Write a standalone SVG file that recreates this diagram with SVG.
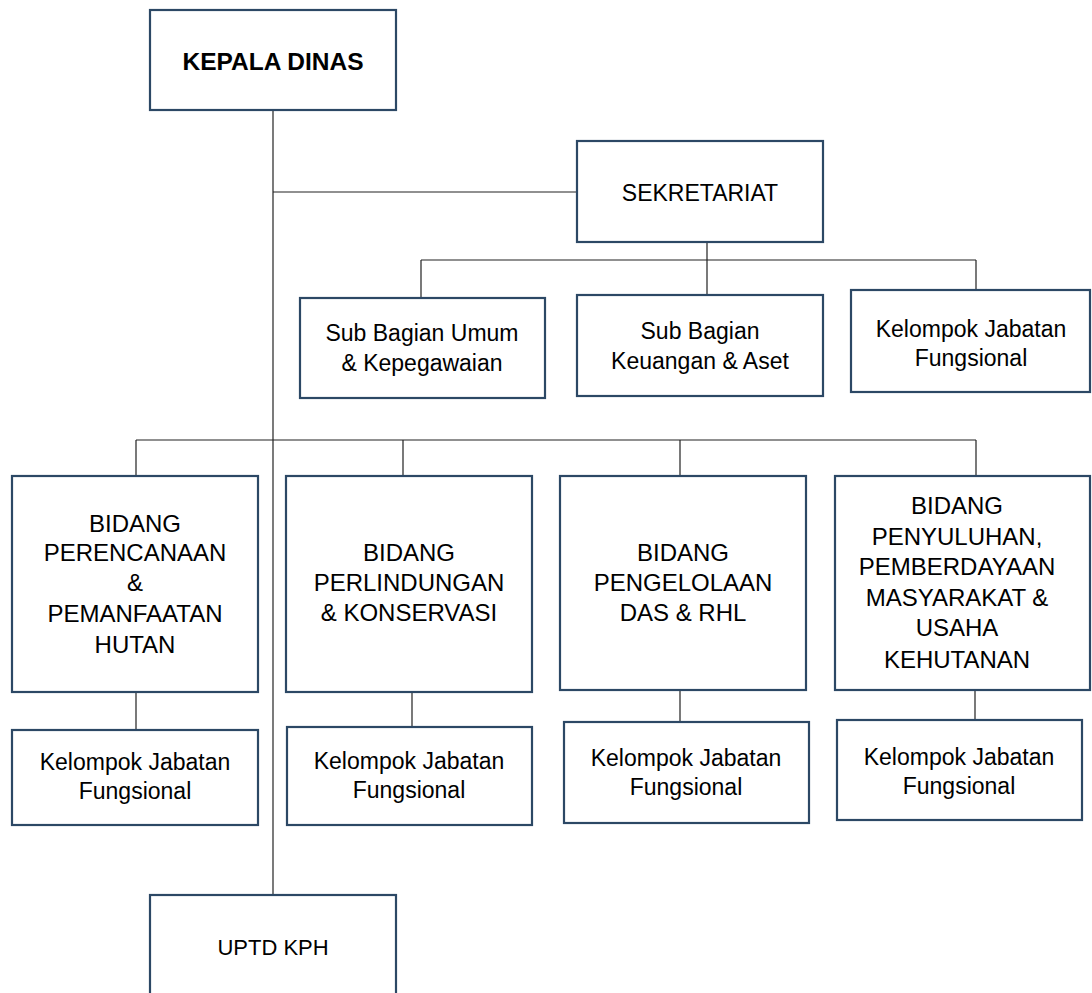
<svg xmlns="http://www.w3.org/2000/svg" width="1092" height="993" viewBox="0 0 1092 993">
<style>
.box{fill:#fff;stroke:#2c4865;stroke-width:2.2}
.ln{fill:none;stroke:#222;stroke-width:1.2}
text{font-family:"Liberation Sans",Arial,sans-serif;fill:#000;text-anchor:middle}
.big{font-size:24px}
.sm{font-size:23px}
</style>
<rect width="1092" height="993" fill="#fff"/>
<g id="connectors">
<path class="ln" d="M273 110V895"/>
<path class="ln" d="M273 192H577"/>
<path class="ln" d="M707 242V260M421 260H976M421 260V298M707 260V295M976 260V290"/>
<path class="ln" d="M136 440H976M136 440V476M403 440V476M680 440V476M976 440V476"/>
<path class="ln" d="M136 692V730M412 692V727M680 690V722M975 690V720"/>
</g>
<g id="kepala"><rect class="box" x="150" y="10" width="246" height="100"/><text x="273" y="70" style="font-size:24.5px;font-weight:bold">KEPALA DINAS</text></g>
<g id="sekretariat"><rect class="box" x="577" y="141" width="246" height="101"/><text x="700" y="201" style="font-size:23px">SEKRETARIAT</text></g>
<g id="subumum"><rect class="box" x="300" y="298" width="245" height="100"/><text class="sm" x="422" y="341">Sub Bagian Umum</text><text class="sm" x="422" y="371">&amp; Kepegawaian</text></g>
<g id="subkeu"><rect class="box" x="577" y="295" width="246" height="101"/><text class="sm" x="700" y="339">Sub Bagian</text><text class="sm" x="700" y="369">Keuangan &amp; Aset</text></g>
<g id="kjf0"><rect class="box" x="851" y="290" width="239" height="102"/><text class="sm" x="971" y="337">Kelompok Jabatan</text><text class="sm" x="971" y="366">Fungsional</text></g>
<g id="bidang1"><rect class="box" x="12" y="476" width="246" height="216"/>
<text class="big" x="135" y="532">BIDANG</text><text class="big" x="135" y="561">PERENCANAAN</text><text class="big" x="135" y="591">&amp;</text><text class="big" x="135" y="622">PEMANFAATAN</text><text class="big" x="135" y="653">HUTAN</text></g>
<g id="bidang2"><rect class="box" x="286" y="476" width="246" height="216"/>
<text class="big" x="409" y="561">BIDANG</text><text class="big" x="409" y="591">PERLINDUNGAN</text><text class="big" x="409" y="621">&amp; KONSERVASI</text></g>
<g id="bidang3"><rect class="box" x="560" y="476" width="246" height="214"/>
<text class="big" x="683" y="561">BIDANG</text><text class="big" x="683" y="591">PENGELOLAAN</text><text class="big" x="683" y="621">DAS &amp; RHL</text></g>
<g id="bidang4"><rect class="box" x="835" y="476" width="255" height="214"/>
<text class="big" x="957" y="514">BIDANG</text><text class="big" x="957" y="545">PENYULUHAN,</text><text class="big" x="957" y="575">PEMBERDAYAAN</text><text class="big" x="957" y="606">MASYARAKAT &amp;</text><text class="big" x="957" y="636">USAHA</text><text class="big" x="957" y="668">KEHUTANAN</text></g>
<g id="kjf1"><rect class="box" x="12" y="730" width="246" height="95"/><text class="sm" x="135" y="770">Kelompok Jabatan</text><text class="sm" x="135" y="799">Fungsional</text></g>
<g id="kjf2"><rect class="box" x="287" y="727" width="245" height="98"/><text class="sm" x="409" y="769">Kelompok Jabatan</text><text class="sm" x="409" y="798">Fungsional</text></g>
<g id="kjf3"><rect class="box" x="564" y="722" width="245" height="101"/><text class="sm" x="686" y="766">Kelompok Jabatan</text><text class="sm" x="686" y="795">Fungsional</text></g>
<g id="kjf4"><rect class="box" x="837" y="720" width="245" height="100"/><text class="sm" x="959" y="765">Kelompok Jabatan</text><text class="sm" x="959" y="794">Fungsional</text></g>
<g id="uptd"><rect class="box" x="150" y="895" width="246" height="110"/><text x="273" y="955" style="font-size:22px">UPTD KPH</text></g>
</svg>
